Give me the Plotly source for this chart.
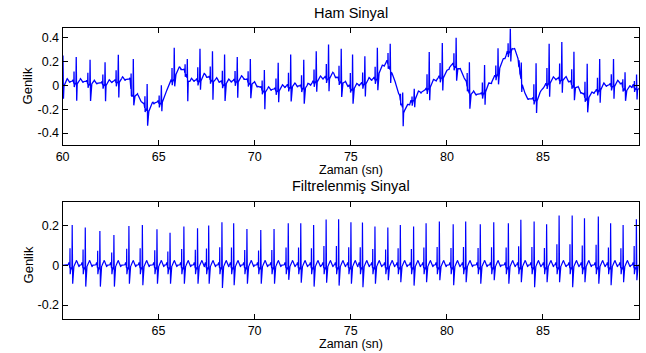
import numpy as np
import plotly.graph_objects as go

# ---------------- data ----------------
# Raw signal ("Ham Sinyal"): R-peak times (s), absolute R-peak values, S depth below baseline
raw_beat_t = [60.02, 60.71, 61.43, 62.21, 62.90, 63.68, 64.40, 65.14, 65.81, 66.49,
              67.15, 67.80, 68.43, 69.09, 69.77, 70.50, 71.22, 71.87, 72.55, 73.20,
              73.84, 74.50, 75.09, 75.73, 76.38, 77.05, 77.70, 78.30, 79.08, 79.76,
              80.48, 81.17, 81.96, 82.66, 83.30, 83.87, 84.64, 85.32, 85.98, 86.61,
              87.30, 87.95, 88.67, 89.27, 89.87]
raw_r_peak = [0.25, 0.236, 0.213, 0.193, 0.255, 0.221, 0.01, 0.0, 0.314, 0.22,
              0.306, 0.286, 0.258, 0.236, 0.221, 0.129, 0.188, 0.258, 0.213, 0.286,
              0.342, 0.306, 0.258, 0.244, 0.314, 0.348, -0.06, -0.03, 0.278, 0.354,
              0.398, 0.193, 0.17, 0.311, 0.474, 0.19, 0.185, 0.348, 0.362, 0.28,
              0.18, 0.22, 0.22, 0.11, 0.09]
raw_s_depth = [-0.12, -0.16, -0.15, -0.15, -0.145, -0.09, -0.14, -0.09, -0.09, -0.2,
               -0.09, -0.17, -0.15, -0.15, -0.13, -0.16, -0.11, -0.13, -0.14, -0.1,
               -0.12, -0.13, -0.13, -0.12, -0.13, -0.12, -0.16, -0.08, -0.12, -0.12,
               -0.12, -0.13, -0.12, -0.12, -0.1, -0.1, -0.12, -0.13, -0.12, -0.12,
               -0.12, -0.12, -0.12, -0.1, -0.1]
# Raw baseline wander (time, value)
raw_base_t = [60.0, 60.2, 61.2, 61.5, 62.3, 63.0, 63.5, 63.6, 63.9, 64.3, 64.5, 64.7,
              65.1, 65.35, 65.5, 65.8, 66.1, 66.4, 66.6, 67.1, 67.4, 67.9, 68.4, 69.1,
              69.4, 69.8, 70.5, 71.2, 71.7, 72.2, 72.7, 73.2, 73.8, 74.1, 74.24, 74.76,
              75.1, 75.8, 76.3, 76.6, 76.9, 77.1, 77.3, 77.6, 77.78, 77.95, 78.2, 78.55,
              78.9, 79.15, 79.6, 79.95, 80.2, 80.45, 80.7, 80.96, 81.2, 81.5, 81.8, 82.0,
              82.3, 82.6, 82.95, 83.2, 83.4, 83.65, 83.8, 84.1, 84.4, 84.76, 85.0, 85.3,
              85.6, 86.1, 86.5, 86.95, 87.3, 87.6, 88.15, 88.6, 89.0, 89.35, 89.7, 90.0]
raw_base_v = [0.0, 0.03, 0.03, 0.017, 0.017, 0.045, 0.05, -0.068, -0.096, -0.18, -0.21, -0.152,
              -0.138, -0.096, -0.011, 0.073, 0.143, 0.115, 0.031, 0.045, 0.078, 0.045, 0.017, 0.045,
              0.059, 0.022, -0.04, -0.034, -0.006, -0.006, -0.017, 0.045, 0.067, 0.087, 0.067, 0.003,
              -0.026, 0.031, 0.059, 0.143, 0.199, 0.13, 0.017, -0.124, -0.21, -0.18, -0.124, -0.068,
              -0.04, 0.003, 0.067, 0.087, 0.171, 0.171, 0.115, 0.045, -0.068, -0.076, -0.076, -0.04,
              0.017, 0.101, 0.213, 0.283, 0.311, 0.255, 0.115, -0.11, -0.118, -0.11, -0.026, 0.031,
              0.05, 0.059, 0.017, -0.054, -0.11, -0.068, -0.006, 0.003, 0.022, -0.04, -0.006, -0.026]

# Filtered signal ("Filtrelenmiş Sinyal"): R-peak times, R-peak values, S-trough values
filt_beat_t = [60.51, 61.19, 61.95, 62.68, 63.46, 64.16, 64.92, 65.60, 66.32, 67.03,
               67.61, 68.30, 68.91, 69.60, 70.32, 71.01, 71.75, 72.40, 73.07, 73.72,
               74.37, 75.01, 75.61, 76.26, 76.93, 77.58, 78.27, 78.92, 79.61, 80.33,
               80.98, 81.74, 82.44, 83.20, 83.85, 84.54, 85.19, 85.84, 86.52, 87.16,
               87.88, 88.52, 89.17, 89.86]
filt_r_peak = [0.203, 0.19, 0.173, 0.153, 0.198, 0.203, 0.181, 0.164, 0.195, 0.186,
               0.2, 0.217, 0.212, 0.183, 0.178, 0.183, 0.212, 0.212, 0.203, 0.231,
               0.232, 0.217, 0.215, 0.195, 0.19, 0.203, 0.195, 0.212, 0.22, 0.207,
               0.22, 0.207, 0.217, 0.212, 0.229, 0.22, 0.207, 0.251, 0.251, 0.237,
               0.246, 0.212, 0.203, 0.232]
filt_s_trough = [-0.093, -0.107, -0.107, -0.107, -0.093, -0.10, -0.093, -0.093, -0.093, -0.093,
                 -0.093, -0.114, -0.10, -0.093, -0.093, -0.093, -0.073, -0.088, -0.107, -0.088,
                 -0.102, -0.093, -0.11, -0.093, -0.075, -0.085, -0.102, -0.085, -0.075, -0.10,
                 -0.085, -0.093, -0.075, -0.093, -0.085, -0.11, -0.085, -0.085, -0.11, -0.085,
                 -0.093, -0.10, -0.085, -0.075]

# Beat waveform shape (offsets from R peak, seconds)
shape_dt = [-0.22, -0.17, -0.135, -0.125, -0.115, -0.105, -0.06, -0.015, 0.0, 0.025,
            0.05, 0.09, 0.15, 0.22, 0.30, 0.36]


def beat_values(a, s):
    return [0.0, 0.015, 0.0, -0.015, 0.42 * a, -0.045, -0.01, -0.02, a, s,
            -0.02, -0.005, 0.005, 0.025, 0.01, -0.008]


def build(beat_t, amps, depths, base_t=None, base_v=None):
    dt = np.array(shape_dt)
    pts = [np.arange(60.0, 90.0001, 0.01)]
    for bt in beat_t:
        pts.append(bt + dt)
    t = np.unique(np.concatenate(pts))
    t = t[(t >= 60.0) & (t <= 90.0)]
    base = np.zeros_like(t) if base_t is None else np.interp(t, base_t, base_v)
    y = base.copy()
    for bt, a, s in zip(beat_t, amps, depths):
        y += np.interp(t, bt + dt, beat_values(a, s), left=0.0, right=0.0)
    return t, y


raw_rel = [r - float(np.interp(bt, raw_base_t, raw_base_v)) for bt, r in zip(raw_beat_t, raw_r_peak)]
t_raw, y_raw = build(raw_beat_t, raw_rel, raw_s_depth, raw_base_t, raw_base_v)
t_f, y_f = build(filt_beat_t, filt_r_peak, filt_s_trough)

W, H = 646, 353
FONT = "Liberation Sans, Arial, sans-serif"
blue = "rgb(0,0,255)"

fig = go.Figure()
fig.add_trace(go.Scatter(x=t_raw, y=y_raw, mode="lines", line=dict(color=blue, width=1.3),
                         xaxis="x", yaxis="y", showlegend=False, hoverinfo="skip"))
fig.add_trace(go.Scatter(x=t_f, y=y_f, mode="lines", line=dict(color=blue, width=1.2),
                         xaxis="x2", yaxis="y2", showlegend=False, hoverinfo="skip"))

x0, x1 = 56.2 / W, 638.8 / W
common = dict(showline=True, linecolor="black", linewidth=1, mirror="ticks", ticks="inside",
              ticklen=5, tickcolor="black", showgrid=False, zeroline=False,
              tickfont=dict(family=FONT, size=12.5, color="black"))

fig.update_layout(
    width=W, height=H, margin=dict(l=0, r=0, t=0, b=0),
    paper_bgcolor="white", plot_bgcolor="white",
    xaxis=dict(domain=[x0, x1], anchor="y", range=[60, 89.99],
               tickvals=[60, 65, 70, 75, 80, 85], ticktext=["60", "65", "70", "75", "80", "85"], **common),
    yaxis=dict(domain=[1 - 145 / H, 1 - 28 / H], anchor="x", range=[-0.5, 0.48],
               tickvals=[-0.4, -0.2, 0, 0.2, 0.4], ticktext=["-0.4", "-0.2", "0", "0.2", "0.4"], **common),
    xaxis2=dict(domain=[x0, x1], anchor="y2", range=[60.01, 89.99],
                tickvals=[65, 70, 75, 80, 85], ticktext=["65", "70", "75", "80", "85"], **common),
    yaxis2=dict(domain=[1 - 319 / H, 1 - 201.7 / H], anchor="x2", range=[-0.27, 0.32],
                tickvals=[-0.2, 0, 0.2], ticktext=["-0.2", "0", "0.2"], **common),
)

cx = (56.2 + 638.8) / 2 / W


def ann(text, x, ypx, size, angle=0):
    fig.add_annotation(text=text, x=x, y=1 - ypx / H, xref="paper", yref="paper",
                       showarrow=False, xanchor="center", yanchor="middle", textangle=angle,
                       font=dict(family=FONT, size=size, color="black"))


ann("Ham Sinyal", cx, 13.5, 14.5)
ann("Zaman (sn)", cx, 170.5, 12.5)
ann("Genlik", 21.7 / W, 86, 13, -90)
ann("Filtrelenmiş Sinyal", cx, 186.5, 14.5)
ann("Zaman (sn)", cx, 344, 12.5)
ann("Genlik", 21.7 / W, 265, 13, -90)

fig.write_html("out.html", config={"displayModeBar": False},
               post_script="document.body.style.margin='0px';document.body.style.overflow='hidden';")
